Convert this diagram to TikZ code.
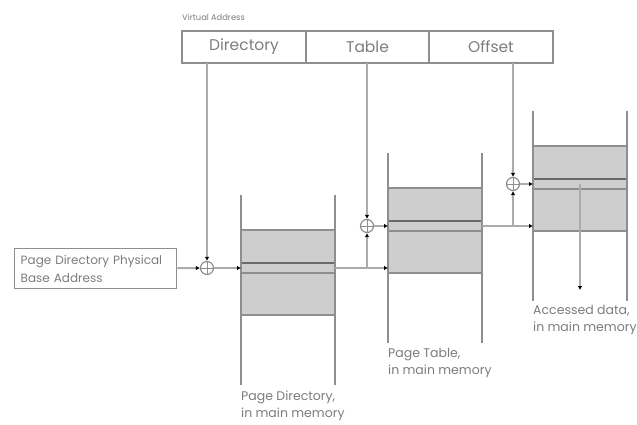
\documentclass[tikz,border=0pt]{standalone}
\usepackage{fontspec}
\setmainfont{Poppins}
\usetikzlibrary{positioning,arrows.meta}
\definecolor{linegray}{HTML}{ABABAB}
\definecolor{edgegray}{HTML}{8E8E8E}
\definecolor{fillgray}{HTML}{CECECE}
\definecolor{rowgray}{HTML}{6A6A6A}
\definecolor{textgray}{HTML}{7C7C7C}
\tikzset{
    wire/.style={linegray,line width=2pt},
    feed/.style={wire,-{Latex[length=4pt,width=4.5pt,color=black]}},
    field/.style={draw=edgegray,line width=1.6pt,outer sep=0pt,inner sep=0pt,
        minimum height=32pt,text=textgray,font=\fontsize{15.5}{17}\selectfont},
    adder/.style={circle,draw=edgegray,fill=white,line width=1.2pt,minimum size=13pt,inner sep=0pt,
        path picture={\draw[edgegray,line width=1pt]
            (path picture bounding box.north) -- (path picture bounding box.south)
            (path picture bounding box.west) -- (path picture bounding box.east);}},
    memnote/.style={anchor=north west,align=left,inner sep=0pt,text=textgray,
        font=\fontsize{12.5}{17}\selectfont}
}
\begin{document}
\begin{tikzpicture}[x=1pt,y=-1pt]
    \useasboundingbox (0,0) rectangle (637,425);
    \node[anchor=west,inner sep=0pt,text=textgray,font=\fontsize{8.3}{10}\selectfont] (va) at (182,17) {Virtual Address};
    \node[field,minimum width=124pt,anchor=north west] (dir) at (182,31) {Directory};
    \node[field,minimum width=123pt,right=0pt of dir] (tbl) {Table};
    \node[field,minimum width=124pt,right=0pt of tbl] (off) {Offset};
    \node[draw=edgegray,line width=1.4pt,anchor=north west,minimum width=161pt,minimum height=40pt,
        text width=150pt,inner xsep=6pt,align=left,text=textgray,font=\fontsize{12}{18}\selectfont]
        (base) at (14,248) {Page Directory Physical\\Base Address};
    \foreach \x/\y/\tab in {241/195/pd, 388/153/pt, 533/111/dat} {
        \fill[fillgray] (\x,\y+35) rectangle (\x+94,\y+120);
        \draw[edgegray,line width=1.5pt] (\x,\y+35) -- +(94,0) (\x,\y+120) -- +(94,0);
        \draw[rowgray,line width=1.6pt] (\x,\y+68) -- +(94,0);
        \draw[edgegray,line width=1.6pt] (\x,\y+78) -- +(94,0);
        \draw[edgegray,line width=1.6pt] (\x,\y) -- +(0,190) (\x+94,\y) -- +(0,190);
        \coordinate (\tab-in) at (\x,\y+73);
        \coordinate (\tab-out) at (\x+94,\y+73);
        \coordinate (\tab-base) at (\x,\y+115);
    }
    \node[adder] (add1) at (207,268) {};
    \node[adder] (add2) at (367,226) {};
    \node[adder] (add3) at (513,184) {};
    \coordinate (hit) at (580,290);
    \draw[feed] (base) -- (add1);
    \draw[feed] (add1 |- dir.south) -- (add1);
    \draw[feed] (add1) -- (pd-in);
    \draw[feed] (pd-out) -- (pt-base);
    \draw[feed] (add2 |- pd-out) -- (add2);
    \draw[feed] (add2 |- tbl.south) -- (add2);
    \draw[feed] (add2) -- (pt-in);
    \draw[feed] (pt-out) -- (dat-base);
    \draw[feed] (add3 |- pt-out) -- (add3);
    \draw[feed] (add3 |- off.south) -- (add3);
    \draw[feed] (add3) -- (dat-in);
    \draw[feed] (hit |- dat-in) -- (hit);
    \node[memnote] (pd-note) at (241,391) {Page Directory,\\in main memory};
    \node[memnote] (pt-note) at (388,348) {Page Table,\\in main memory};
    \node[memnote] (dat-note) at (533,305) {Accessed data,\\in main memory};
\end{tikzpicture}
\end{document}
